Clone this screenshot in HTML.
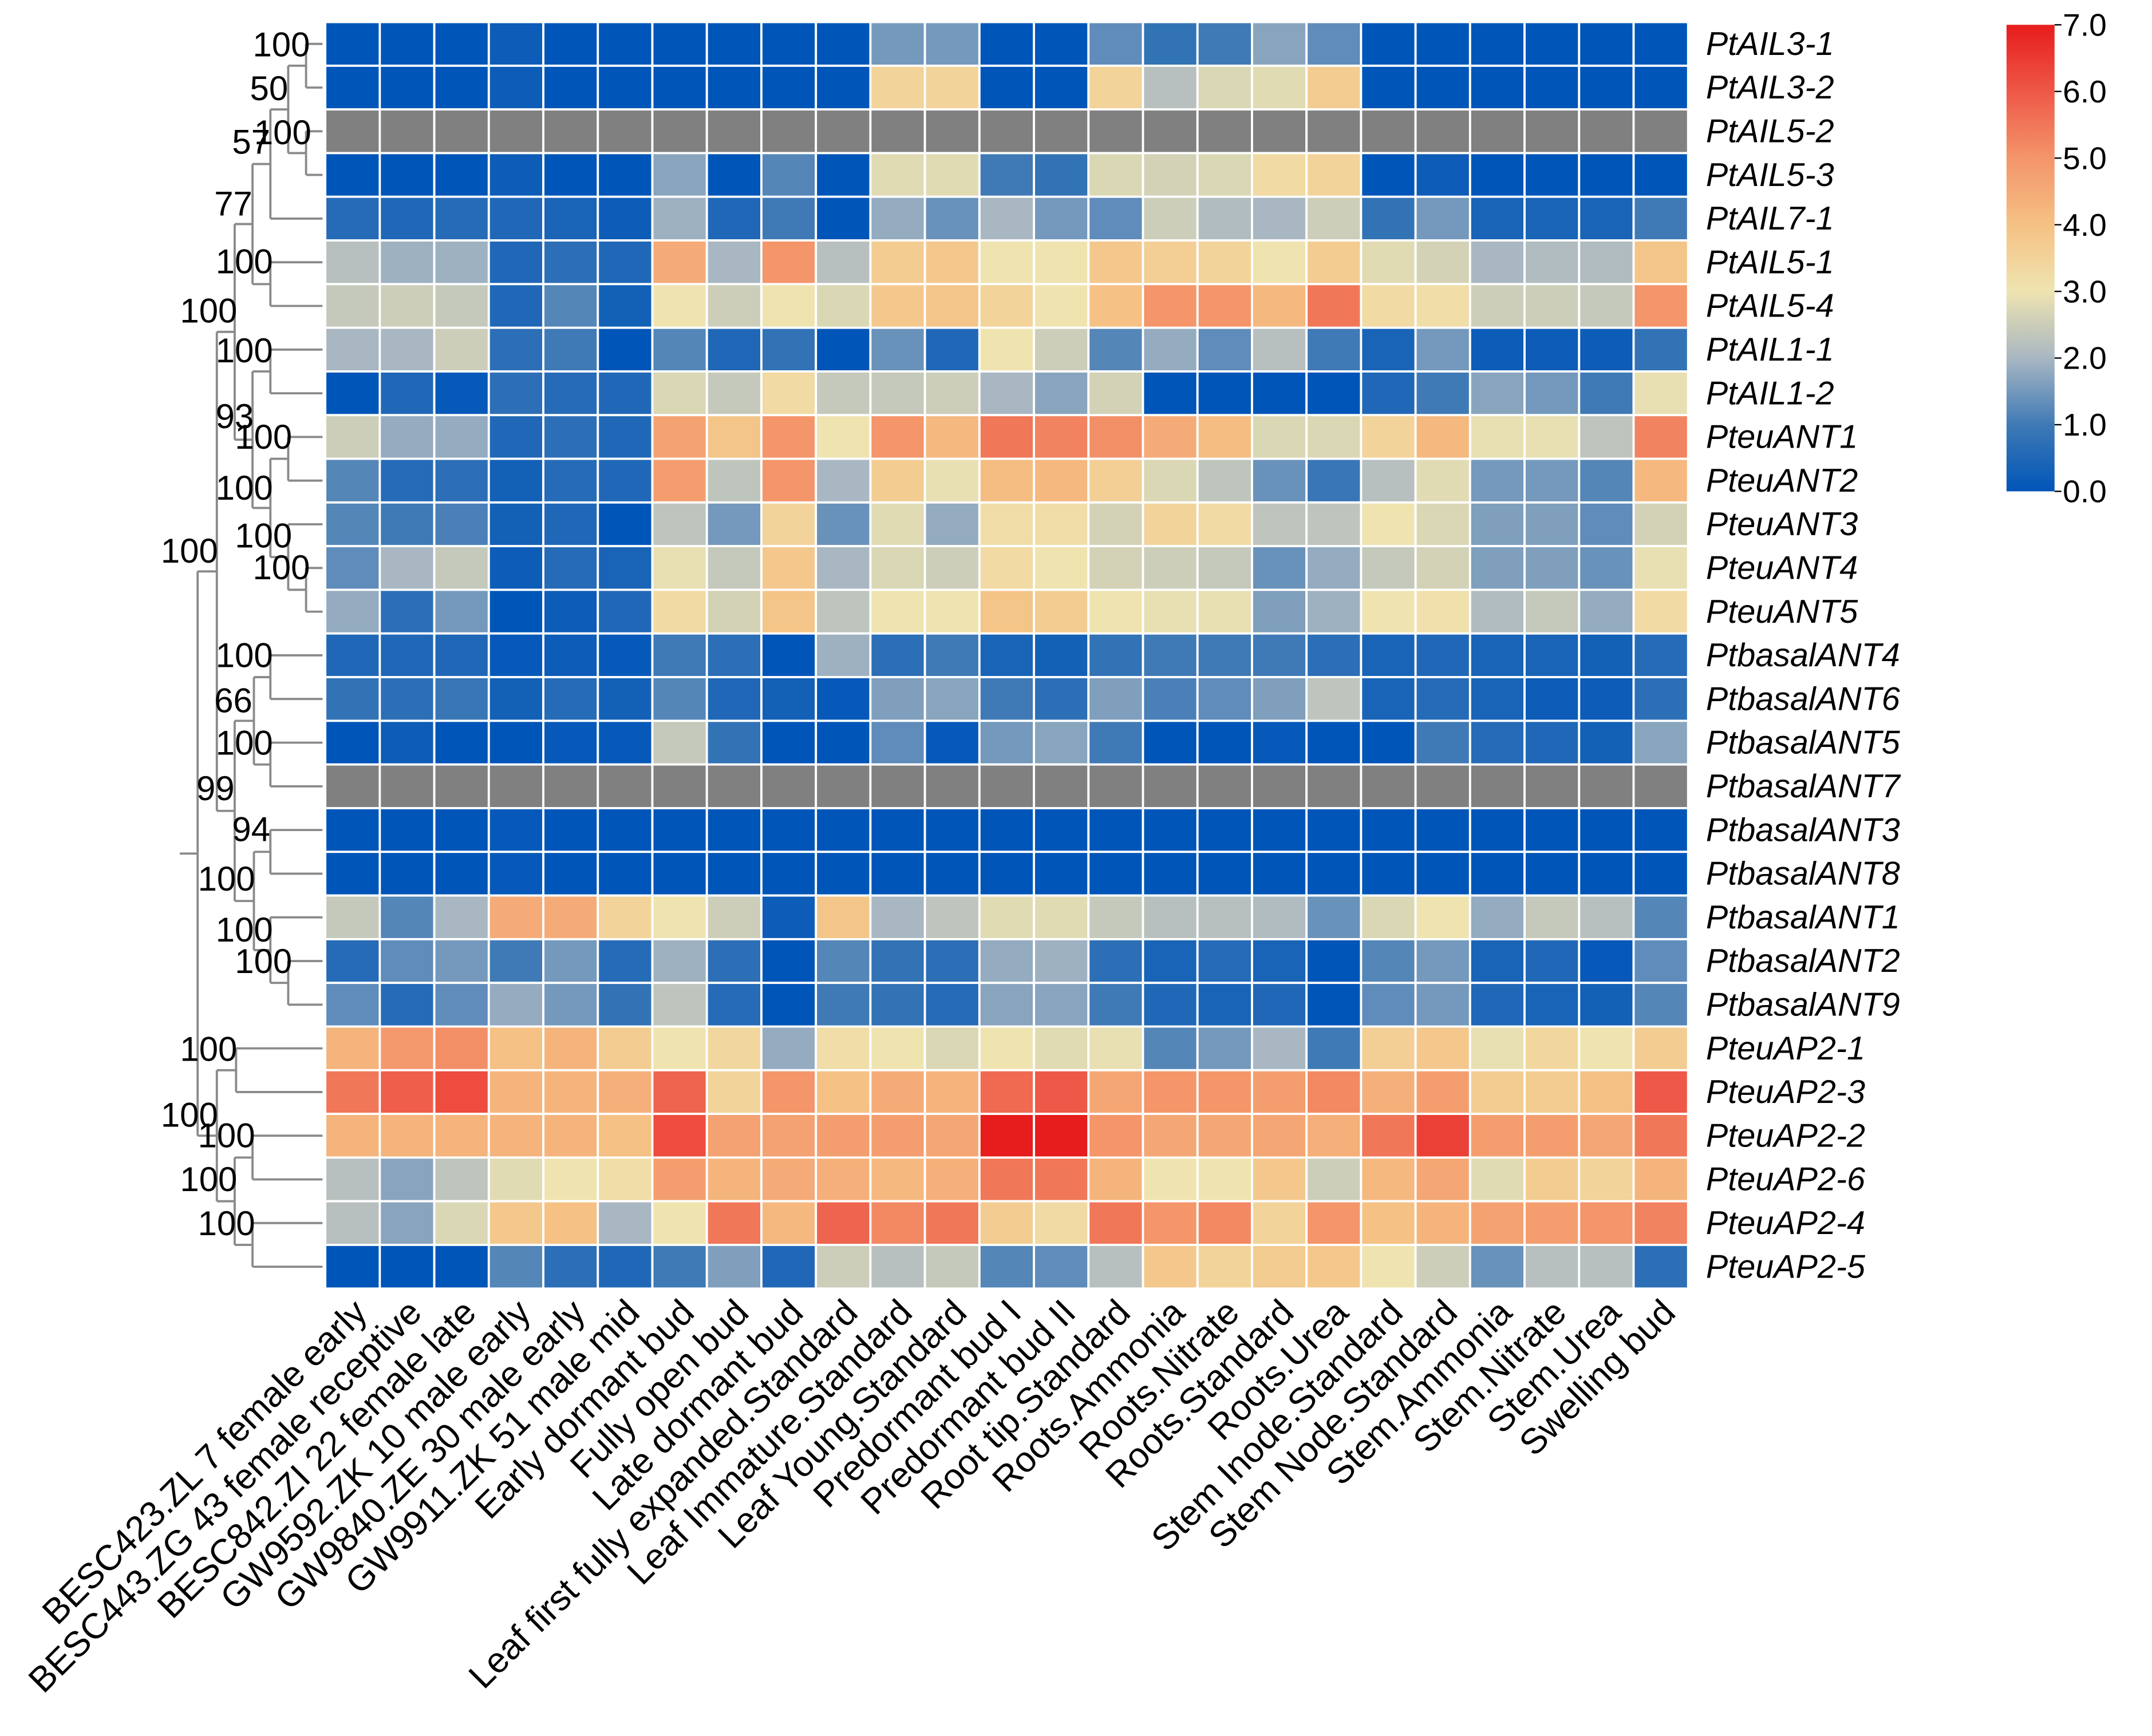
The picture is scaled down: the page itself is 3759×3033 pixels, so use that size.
<!DOCTYPE html>
<html><head><meta charset="utf-8">
<style>
html,body{margin:0;padding:0;background:#fff;}
svg{display:block;}
text{font-family:"Liberation Sans",Arial,sans-serif;}
</style></head>
<body>
<svg id="chart" xmlns="http://www.w3.org/2000/svg" width="3759" height="3033" viewBox="0 0 1568 1265">
<defs>
<linearGradient id="cbg" x1="0" y1="1" x2="0" y2="0">
<stop offset="0" stop-color="#0055b8"/>
<stop offset="0.143" stop-color="#3f7ab6"/>
<stop offset="0.286" stop-color="#a9b7c2"/>
<stop offset="0.43" stop-color="#efe4b0"/>
<stop offset="0.571" stop-color="#f5c184"/>
<stop offset="0.714" stop-color="#f4956a"/>
<stop offset="0.857" stop-color="#ee5848"/>
<stop offset="1" stop-color="#e71c1c"/>
</linearGradient>
</defs>
<g id="cells"></g>
<g id="tree"></g>
<g id="boots"></g>
<g id="rowlabels"></g>
<g id="collabels"></g>
<g id="legend">
<rect x="1462" y="18" width="35" height="340" fill="url(#cbg)"/>
</g>
</svg>
<script>
const genes=["PtAIL3-1","PtAIL3-2","PtAIL5-2","PtAIL5-3","PtAIL7-1","PtAIL5-1","PtAIL5-4","PtAIL1-1","PtAIL1-2","PteuANT1","PteuANT2","PteuANT3","PteuANT4","PteuANT5","PtbasalANT4","PtbasalANT6","PtbasalANT5","PtbasalANT7","PtbasalANT3","PtbasalANT8","PtbasalANT1","PtbasalANT2","PtbasalANT9","PteuAP2-1","PteuAP2-3","PteuAP2-2","PteuAP2-6","PteuAP2-4","PteuAP2-5"];
const samples=["BESC423.ZL 7 female early","BESC443.ZG 43 female receptive","BESC842.ZI 22 female late","GW9592.ZK 10 male early","GW9840.ZE 30 male early","GW9911.ZK 51 male mid","Early dormant bud","Fully open bud","Late dormant bud","Leaf first fully expanded.Standard","Leaf Immature.Standard","Leaf Young.Standard","Predormant bud I","Predormant bud II","Root tip.Standard","Roots.Ammonia","Roots.Nitrate","Roots.Standard","Roots.Urea","Stem Inode.Standard","Stem Node.Standard","Stem.Ammonia","Stem.Nitrate","Stem.Urea","Swelling bud"];
const N=null;
const vAIL3_1=[0,0,0,0.2,0,0,0,0,0,0,1.5,1.5,0,0,1.3,0.8,1,1.7,1.3,0,0,0,0,0,0];
const vAIL3_2=[0,0,0,0.2,0,0,0,0,0,0,3.5,3.5,0,0,3.5,2.2,2.7,2.8,3.7,0,0,0,0,0,0];
const vAIL5_2=[N,N,N,N,N,N,N,N,N,N,N,N,N,N,N,N,N,N,N,N,N,N,N,N,N];
const vAIL5_3=[0,0,0,0.2,0,0,1.7,0,1.2,0,2.8,2.8,1,0.8,2.7,2.6,2.7,3.3,3.5,0,0.2,0,0,0,0];
const vAIL7_1=[0.6,0.5,0.6,0.5,0.4,0.2,1.9,0.5,1,0,1.8,1.4,2,1.5,1.3,2.5,2.1,2,2.5,0.8,1.5,0.4,0.4,0.4,1];
const vAIL5_1=[2.2,1.9,1.9,0.5,0.7,0.5,4.5,2,5,2.2,3.7,3.8,3,3,3.8,3.6,3.5,3,3.7,2.8,2.6,2,2.1,2.1,3.9];
const vAIL5_4=[2.4,2.5,2.4,0.5,1.2,0.3,3,2.5,3,2.7,3.8,3.9,3.5,3,4,5,5,4.2,5.5,3.3,3.2,2.5,2.5,2.4,5];
const vAIL1_1=[2,2,2.5,0.7,1,0,1.2,0.5,0.8,0,1.4,0.5,3,2.5,1.2,1.8,1.3,2.2,1,0.4,1.5,0.2,0.2,0.2,0.8];
const vAIL1_2=[0,0.5,0.1,0.7,0.6,0.5,2.7,2.4,3.3,2.4,2.4,2.5,2,1.7,2.6,0,0,0,0,0.5,1,1.7,1.5,1,2.9];
const vANT1=[2.5,1.8,1.8,0.5,0.7,0.5,4.7,3.9,5,3,5,4.2,5.5,5.3,5.1,4.5,4.1,2.7,2.7,3.5,4.2,2.9,2.9,2.3,5.3];
const vANT2=[1.2,0.6,0.7,0.3,0.6,0.5,4.8,2.3,5,2,3.7,2.9,4.1,4.2,3.6,2.7,2.3,1.4,0.9,2.2,2.8,1.5,1.5,1.2,4.2];
const vANT3=[1.2,1,1.1,0.3,0.5,0,2.3,1.5,3.5,1.4,2.8,1.8,3.2,3.2,2.6,3.5,3.3,2.3,2.3,3,2.7,1.6,1.6,1.3,2.6];
const vANT4=[1.3,2,2.4,0.2,0.6,0.4,2.9,2.4,3.8,2,2.7,2.5,3.3,3,2.6,2.5,2.4,1.4,1.8,2.4,2.6,1.6,1.6,1.4,2.9];
const vANT5=[1.8,0.7,1.5,0,0.2,0.5,3.3,2.6,3.9,2.3,3,3,3.9,3.7,3,2.9,2.9,1.6,1.9,3,3.1,2.1,2.4,1.8,3.3];
const vB4=[0.5,0.5,0.5,0.1,0.2,0.1,1,0.7,0,1.9,0.7,1,0.4,0.3,0.8,1,1,1,0.7,0.4,0.5,0.4,0.4,0.3,0.6];
const vB6=[0.8,0.7,0.9,0.3,0.6,0.3,1.2,0.5,0.3,0.1,1.6,1.7,1,0.7,1.6,1.1,1.3,1.6,2.3,0.4,0.6,0.4,0.2,0.2,0.7];
const vB5=[0,0.2,0,0,0.1,0.1,2.4,0.8,0,0,1.3,0.1,1.5,1.7,1,0,0,0.1,0,0,1,0.6,0.5,0.3,1.7];
const vB7=[N,N,N,N,N,N,N,N,N,N,N,N,N,N,N,N,N,N,N,N,N,N,N,N,N];
const vB3=[0,0,0,0.1,0,0,0,0,0,0,0,0,0,0,0,0,0,0,0,0,0,0,0,0,0];
const vB8=[0,0,0,0.1,0,0,0,0,0,0,0,0,0,0,0,0,0,0,0,0,0,0,0,0,0];
const vB1=[2.4,1.2,2,4.5,4.5,3.5,3,2.5,0.2,3.9,2,2.3,2.8,2.8,2.4,2.2,2.2,2.1,1.4,2.7,3,1.8,2.4,2.2,1.2];
const vB2=[0.6,1.3,1.5,1,1.5,0.6,1.9,0.7,0,1.2,0.8,0.7,1.8,1.9,0.7,0.4,0.6,0.4,0,1.2,1.5,0.4,0.5,0.1,1.3];
const vB9=[1.3,0.6,1.3,1.8,1.5,0.8,2.3,0.6,0,1,0.8,0.6,1.7,1.7,1,0.5,0.4,0.5,0,1.3,1.5,0.5,0.4,0.3,1.2];
const vAP2_1=[4.3,4.9,5.1,4,4.3,3.7,3,3.4,1.8,3.2,3,2.7,3,2.8,2.9,1.2,1.5,2,1,3.6,3.8,2.9,3.4,3,3.7];
const vAP2_3=[5.5,5.9,6.2,4.3,4.3,4.4,5.8,3.5,5,4,4.5,4.3,5.7,6,4.6,5,5,4.8,5.2,4.4,4.8,3.7,3.7,4,6];
const vAP2_2=[4.3,4.3,4.3,4.3,4.3,4,6.2,4.7,4.7,4.8,4.8,4.6,7,7,5,4.6,4.6,4.6,4.4,5.5,6.4,4.8,4.8,4.6,5.5];
const vAP2_6=[2.2,1.7,2.3,2.8,3,3.2,4.8,4.3,4.5,4.4,4.2,4.4,5.5,5.5,4.3,3,3,3.8,2.5,4.2,4.6,2.8,3.7,3.5,4.3];
const vAP2_4=[2.2,1.7,2.7,3.8,4,2,3,5.5,4.2,5.8,5.2,5.5,3.7,3.3,5.5,5,5.2,3.5,5,4,4.3,4.7,4.8,5,5.3];
const vAP2_5=[0,0,0,1.2,0.7,0.5,1,1.6,0.5,2.5,2.2,2.4,1.2,1.3,2.2,3.8,3.5,3.7,3.8,3,2.5,1.4,2.2,2.2,0.7];
const values=[vAIL3_1,vAIL3_2,vAIL5_2,vAIL5_3,vAIL7_1,vAIL5_1,vAIL5_4,vAIL1_1,vAIL1_2,vANT1,vANT2,vANT3,vANT4,vANT5,vB4,vB6,vB5,vB7,vB3,vB8,vB1,vB2,vB9,vAP2_1,vAP2_3,vAP2_2,vAP2_6,vAP2_4,vAP2_5];
const legendTicks=[0,1,2,3,4,5,6,7];
const bootLabels=["100","50","57","100","77","100","100","100","93","100","100","100","100","100","100","66","100","99","94","100","100","100","100","100","100","100","100"];

const NS="http://www.w3.org/2000/svg";
const X0=237,X1=1230,Y0=16,Y1=939,VMAX=7;
const cw=(X1-X0)/samples.length, rh=(Y1-Y0)/genes.length;
const xAt=i=>X0+i*cw, yAt=j=>Y0+j*rh, yMid=j=>Y0+(j+0.5)*rh;
const stops=[[0,[0,85,184]],[1,[63,122,182]],[2,[169,183,194]],[3,[239,228,176]],[4,[245,193,132]],[5,[244,149,106]],[6,[238,88,72]],[7,[231,28,28]]];
function color(v){
  if(v===null) return "#808080";
  v=Math.max(0,Math.min(VMAX,v));
  for(let k=0;k<stops.length-1;k++){
    if(v<=stops[k+1][0]){const t=(v-stops[k][0])/(stops[k+1][0]-stops[k][0]);
      const c=stops[k][1].map((a,i)=>Math.round(a+(stops[k+1][1][i]-a)*t));return `rgb(${c})`;}
  }
  return "rgb(231,28,28)";
}
function mk(tag,attrs,parent){const e=document.createElementNS(NS,tag);for(const k in attrs)e.setAttribute(k,attrs[k]);parent.appendChild(e);return e;}
const gC=document.getElementById('cells');
values.forEach((row,j)=>row.forEach((v,i)=>{
  const r=mk('rect',{x:xAt(i),y:yAt(j),width:cw,height:rh,fill:color(v),stroke:'#fff','stroke-width':1.6},gC);
  
  
}));
const gR=document.getElementById('rowlabels');
genes.forEach((g,j)=>{
  const t=mk('text',{x:1243,y:yMid(j)+8,'font-size':24,'font-style':'italic'},gR);
  t.textContent=g;
  
  
});
const gS=document.getElementById('collabels');
samples.forEach((s,i)=>{
  const cx=xAt(i)+cw/2+12, cy=958;
  const t=mk('text',{x:cx,y:cy,'font-size':26,'text-anchor':'end',transform:`rotate(-45 ${cx} ${cy})`},gS);
  t.textContent=s;
  
  
});
const gL=document.getElementById('legend');
legendTicks.forEach(v=>{
  const y=358-v/VMAX*340;
  const l=mk('line',{x1:1497,x2:1502,y1:y,y2:y,stroke:'#000','stroke-width':1},gL);
  
  
  const t=mk('text',{x:1503,y:y+8,'font-size':23},gL);
  t.textContent=v.toFixed(1);
  
  
});
const tree={x:144,c:[
 {x:158,c:[
   {x:171,c:[
     {x:184,c:[{x:197,c:[{x:210,c:[{x:223,c:[0,1]},{x:223,c:[2,3]}]},4]},{x:197,c:[5,6]}]},
     {x:184,c:[{x:197,c:[7,8]},{x:197,c:[{x:210,c:[9,10]},{x:210,c:[11,{x:223,c:[12,13]}]}]}]}
   ]},
   {x:171,c:[
     {x:185,c:[{x:197,c:[14,15]},{x:197,c:[16,17]}]},
     {x:185,c:[{x:197,c:[18,19]},{x:197,c:[20,{x:210,c:[21,22]}]}]}
   ]}
 ]},
 {x:158,c:[{x:172,c:[23,24]},{x:171,c:[{x:184,c:[25,26]},{x:184,c:[27,28]}]}]}
]};
const gT=document.getElementById('tree');
function seg(x1,y1,x2,y2){const l=mk('line',{x1,y1,x2,y2,stroke:'#8a8a8a','stroke-width':1.6},gT);
  
  }
function draw(n){
  if(typeof n==='number') return yMid(n);
  const ys=n.c.map(ch=>{const y=draw(ch);const cx=typeof ch==='number'?235:ch.x;seg(n.x,y,cx,y);return y;});
  seg(n.x,Math.min(...ys),n.x,Math.max(...ys));
  return (Math.min(...ys)+Math.max(...ys))/2;
}
const ry=draw(tree); seg(131,ry,144,ry);
const bootPos=[[205,32],[196,64],[183,103],[206,96],[170,148],[178,190],[152,226],[178,255],[171,303],[192,318],[178,355],[192,390],[138,401],[205,413],[178,477],[170,510],[178,541],[157,574],[183,604],[165,640],[178,677],[192,700],[152,764],[138,812],[165,827],[152,859],[165,891]];
const gB=document.getElementById('boots');
bootLabels.forEach((b,k)=>{
  const t=mk('text',{x:bootPos[k][0],y:bootPos[k][1]+9,'font-size':25,'text-anchor':'middle'},gB);
  t.textContent=b;
  
  
});
</script>
</body></html>
